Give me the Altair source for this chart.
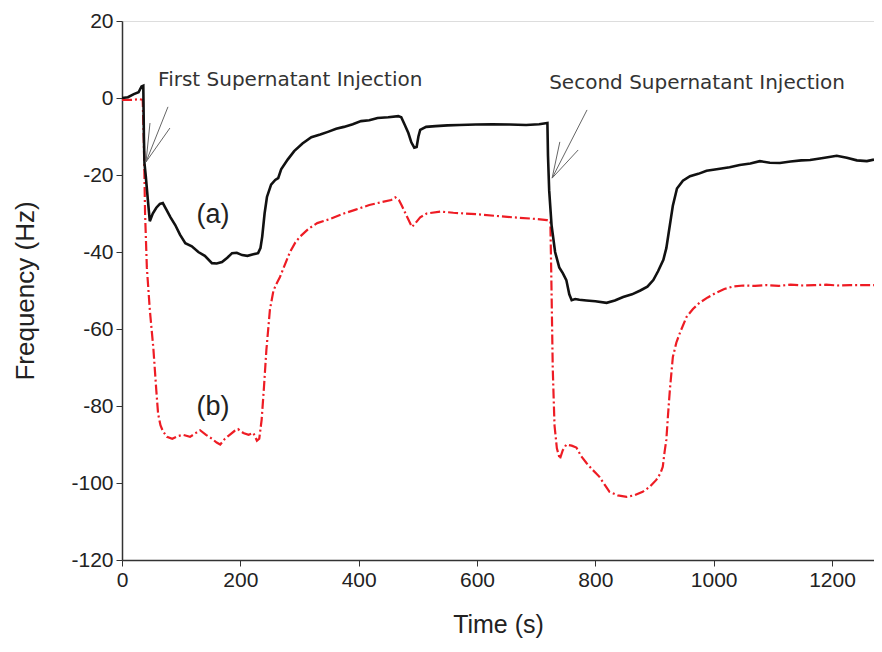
import altair as alt
import pandas as pd

# ---- data ----
t_a = [0, 10, 20, 28, 33, 36, 37, 38, 40, 44, 47, 52, 58, 64, 69, 75, 82, 90, 98, 107,
       118, 129, 140, 152, 160, 169, 178, 186, 194, 203, 212, 222, 230, 234, 237, 241, 245,
       252, 259, 264, 269, 280, 291, 305, 320, 335, 348, 362, 375, 390, 404, 418, 432, 450,
       467, 472, 478, 484, 489, 494, 498, 501, 504, 514, 530, 550, 570, 598, 626, 655, 683,
       705, 719, 720, 722, 726, 732, 739, 745, 751, 756, 760, 766, 773, 785, 800, 819, 833,
       847, 862, 876, 888, 898, 906, 915, 920, 924, 928, 931, 938, 948, 960, 974, 988, 1005,
       1027, 1044, 1062, 1078, 1095, 1112, 1130, 1148, 1163, 1185, 1208, 1225, 1242, 1259, 1271]
f_a = [0, 0.2, 1.0, 1.5, 3.0, 3.2, -10, -17, -20, -27, -32, -30, -28.5, -27.5, -27.3, -29, -31,
       -33, -35.5, -37.7, -38.5, -40, -41, -42.9, -43, -42.6, -41.5, -40.3, -40.2, -40.8, -41,
       -40.6, -40.3, -39, -36, -30, -25.7, -22.5, -21.3, -20.8, -18.5, -16, -13.8, -11.8, -10.2,
       -9.5, -8.8, -8, -7.5, -6.8, -6, -5.8, -5.2, -5.0, -4.7, -5, -7, -9.1, -11.5, -12.9, -12.7,
       -10, -8.3, -7.5, -7.3, -7.1, -7, -6.9, -6.8, -6.9, -7, -6.8, -6.5, -15, -24, -33, -40, -44,
       -45.5, -47.3, -51, -52.5, -52.2, -52.4, -52.6, -52.8, -53.2, -52.6, -51.7, -51, -50, -49,
       -47.3, -45, -42, -39, -35, -31, -28, -23.5, -21.5, -20.3, -19.7, -18.9, -18.5, -18, -17.4,
       -17, -16.4, -16.8, -16.9, -16.5, -16.2, -16.1, -15.6, -15, -15.5, -16.2, -16.4, -16.0]

t_b = [0, 15, 30, 35, 37, 39, 42, 47, 53, 58, 61, 65, 69, 76, 85, 95, 103, 115, 125, 132, 142,
       152, 160, 166, 174, 182, 190, 196, 205, 214, 222, 228, 232, 236, 240, 244, 250, 256, 262,
       267, 276, 284, 293, 301, 315, 330, 350, 375, 395, 418, 440, 455, 462, 468, 473, 482, 490,
       496, 504, 515, 538, 560, 600, 630, 661, 690, 718, 724, 726, 728, 731, 735, 740, 745, 751,
       760, 768, 776, 785, 795, 807, 816, 824, 838, 853, 866, 880, 892, 903, 910, 914, 917, 920,
       923, 926, 931, 937, 943, 954, 965, 976, 990, 1004, 1018, 1032, 1050, 1070, 1088, 1110,
       1130, 1150, 1170, 1190, 1210, 1230, 1250, 1271]
f_b = [-0.5, -0.5, -0.3, -0.5, -12, -30, -44, -55, -65, -76, -82, -85, -86.5, -88, -88.5, -87.8,
       -87.5, -88, -87, -86.3, -87.5, -88.5, -89.5, -90, -88.5, -87.5, -86.5, -86, -87, -87.5,
       -87, -89, -88.5, -83.6, -75, -65.5, -55, -50, -48, -46.5, -43, -40, -37.5, -36, -34,
       -32.5, -31.5, -30, -29, -27.8, -27, -26.5, -25.8, -26.5, -28, -30.9, -33.5, -32.5, -31,
       -30, -29.5, -29.8, -30.2, -30.6, -31, -31.3, -31.7, -32, -50, -70, -85, -91, -93.8,
       -91.5, -90, -90.3, -90.8, -93, -94.8, -96.5, -98.4, -100.5, -102.3, -103.2, -103.6,
       -103.2, -102.3, -101, -99.2, -97.5, -95.8, -92, -88.8, -82, -75.8, -67.3, -63.5, -61,
       -56.9, -54.8, -53.2, -51.8, -50.6, -49.6, -49, -48.7, -48.8, -48.6, -48.8, -48.5, -48.7,
       -48.6, -48.5, -48.7, -48.6, -48.6, -48.6]

x_ticks = [0, 200, 400, 600, 800, 1000, 1200]
y_ticks = [-120, -100, -80, -60, -40, -20, 0, 20]

ann_text = ["First Supernatant Injection", "Second Supernatant Injection"]
ann_t = [61, 722]
ann_f = [4.7, 3.9]

# arrow segments (tail -> tip, and two head strokes)
arr_t1 = [77.7, 47.3, 81.0, 786, 740, 771]
arr_f1 = [-2.3, -6.5, -7.8, -3.1, -11.4, -13.5]
arr_t2 = [40.6, 40.6, 40.6, 727, 727, 727]
arr_f2 = [-16.6, -16.6, -16.6, -20.8, -20.8, -20.8]

lab_text = ["(a)", "(b)"]
lab_t = [154, 154]
lab_f = [-30.3, -80.3]

# ---- build ----
df_a = pd.DataFrame({"t": t_a, "f": f_a})
df_b = pd.DataFrame({"t": t_b, "f": f_b})
df_ann = pd.DataFrame({"text": ann_text, "t": ann_t, "f": ann_f})
df_arr = pd.DataFrame({"t1": arr_t1, "f1": arr_f1, "t2": arr_t2, "f2": arr_f2})
df_lab = pd.DataFrame({"text": lab_text, "t": lab_t, "f": lab_f})

xs = alt.Scale(domain=[0, 1271], nice=False, zero=False)
ys = alt.Scale(domain=[-120, 20], nice=False, zero=False)

x_axis = alt.Axis(values=x_ticks, title="Time (s)", grid=False, labelFontSize=21,
                  titleFontSize=25, titleFontWeight="normal", labelFont="Liberation Sans",
                  titleFont="Liberation Sans", tickSize=6, labelPadding=3, titlePadding=22,
                  domainColor="#333", tickColor="#333", labelColor="#222", titleColor="#222",
                  domainWidth=1.5, labelFlush=False, labelExpr="'' + datum.value")
y_axis = alt.Axis(values=y_ticks, title="Frequency (Hz)", grid=False, labelFontSize=21,
                  titleFontSize=26, titleFontWeight="normal", labelFont="Liberation Sans",
                  titleFont="Liberation Sans", tickSize=6, labelPadding=3, titlePadding=32,
                  domainColor="#333", tickColor="#333", labelColor="#222", titleColor="#222",
                  domainWidth=1.5, labelFlush=False, labelExpr="'' + datum.value")

line_a = alt.Chart(df_a).mark_line(color="#111111", strokeWidth=2.6, clip=True).encode(
    x=alt.X("t:Q", scale=xs, axis=x_axis),
    y=alt.Y("f:Q", scale=ys, axis=y_axis),
    order="t:Q",
)
line_b = alt.Chart(df_b).mark_line(color="#ee1c24", strokeWidth=2.2, strokeDash=[10, 3, 2, 3],
                                   clip=True).encode(
    x=alt.X("t:Q", scale=xs),
    y=alt.Y("f:Q", scale=ys),
    order="t:Q",
)
arrows = alt.Chart(df_arr).mark_rule(color="#666666", strokeWidth=1).encode(
    x=alt.X("t1:Q", scale=xs), y=alt.Y("f1:Q", scale=ys),
    x2="t2:Q", y2="f2:Q",
)
ann = alt.Chart(df_ann).mark_text(align="left", baseline="middle", font="DejaVu Sans",
                                  fontSize=20, color="#333").encode(
    x=alt.X("t:Q", scale=xs), y=alt.Y("f:Q", scale=ys), text="text:N",
)
labs = alt.Chart(df_lab).mark_text(align="center", baseline="middle", font="Liberation Sans",
                                   fontSize=27, color="#222").encode(
    x=alt.X("t:Q", scale=xs), y=alt.Y("f:Q", scale=ys), text="text:N",
)

chart = alt.layer(line_b, line_a, arrows, ann, labs).properties(
    width=752, height=539,
    autosize=alt.AutoSizeParams(type="none"),
    padding={"left": 114, "top": 13, "right": 0, "bottom": 84},
).configure_view(stroke=None).configure(background="white")

chart.save("out.html", embed_options={"renderer": "svg", "actions": False})
